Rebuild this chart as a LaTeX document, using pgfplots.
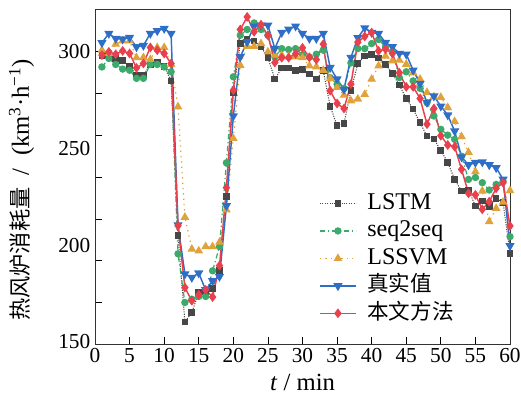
\documentclass[border=0pt]{standalone}
\usepackage{fontspec}
\setmainfont{Liberation Serif}
\newfontfamily\cjk[Scale=0.9]{Noto Sans CJK SC}
\usepackage{pgfplots}
\usepackage{pgfplotstable}
\pgfplotsset{compat=1.18}

\definecolor{cLSTM}{HTML}{474747}
\definecolor{cSeq}{HTML}{3BAA6B}
\definecolor{cSVM}{HTML}{E0A23A}
\definecolor{cTrue}{HTML}{2F6EC6}
\definecolor{cOurs}{HTML}{E8404C}

% t, LSTM, seq2seq, LSSVM, measured, proposed
\pgfplotstableread{
t  lstm  seq   svm   true  ours
1  298   292.2 300.9 304.7 298.3
2  298   296.6 299.2 309.5 300
3  296.6 293.5 304   306.9 298.8
4  295.7 291.1 305.7 306.6 300.5
5  292.6 290.5 305.7 307.4 299.2
6  288   286.3 297   302.6 291.7
7  288   286.3 297.1 303.3 294
8  293.5 293.5 296.1 309.5 302.3
9  294.8 293.5 302.3 310.9 300.9
10 292.5 292.2 302.3 312.1 299.2
11 285   289.7 293.6 309.5 294
12 205   195.5 271.6 210.4 210
13 160.2 170.3 214.4 185   178
14 165.1 172   197.9 183.2 171.2
15 175.5 173.4 197   185.5 174.3
16 176   173.4 199.2 176.8 176.8
17 177.7 186.7 199.2 181.5 173.1
18 186.9 199.2 201.5 183.7 189.4
19 225   242.6 218.2 220.3 229.7
20 278.8 287.1 255.2 266.8 280.2
21 304.3 308.6 293.1 297.4 311.6
22 306.4 311.6 302.9 305.2 318.1
23 305.7 315   302.9 313.3 310.4
24 302.6 311.6 304.3 313.8 314.1
25 297   308.6 300   313.8 308.6
26 285.9 297.4 298.3 301.7 294.5
27 291.6 301.7 298.3 310   297
28 291.6 301.2 297.5 311.7 297
29 290.4 301.7 297.5 313.3 299
30 291   298.5 297   309.5 302.1
31 288.6 297.3 292.8 306.9 297.2
32 286   298.8 292.3 306.9 296
33 290.2 300.9 290.5 309.5 304
34 271.9 286.7 286.2 291.9 279.9
35 261.8 283.3 281.6 285.9 273.3
36 263   281.1 277.6 280.6 270.7
37 279.9 294.3 274.7 297.1 283.3
38 294   301.7 275.6 307.3 305
39 297.9 301.7 278   312.4 308
40 298.6 304.3 285.9 310   310
41 296.9 306.4 292.8 309.5 300.5
42 293.6 302.6 297.8 304.8 301.4
43 288.8 300   295.4 302.6 299.2
44 282.8 286.7 295.7 299.2 289.2
45 275.9 289.7 293.6 298.8 281.9
46 270.4 285   289.2 290.5 281.9
47 263.3 281.1 285.9 283.6 275.9
48 256.4 273.7 279   273.8 262.6
49 254.9 266.8 276.8 277.1 270.7
50 249   259.9 276.5 271.9 256.6
51 242.8 256.9 271.2 267.3 251.8
52 234   254.7 264   259   250.9
53 228   246   256.1 245.6 239.2
54 228.5 234   248   241.5 226.8
55 220.3 235   238   242.7 226
56 222.8 232.3 228   243   218.5
57 219.9 228.5 212.2 241.5 222.5
58 224.2 231.4 219   240   229.4
59 222   233   222.2 234   232.3
60 195.8 204.4 228.2 199.6 209.9
}\data

\begin{document}
\begin{tikzpicture}
\begin{axis}[
    scale only axis, width=311.25pt, height=251.25pt,
    at={(0,0)}, anchor=south west,
    xmin=0, xmax=60, ymin=148.8, ymax=322.2,
    xtick={0,5,...,60}, xtick pos=bottom,
    ytick={148.8,170.3,191.9,213.4,235,256.6,278.4,300}, yticklabels={},
    extra y ticks={150,200,250,300},
    extra y tick labels={150,200,250,300},
    extra y tick style={major tick length=0pt},
    ytick pos=left, tick align=inside, major tick length=5pt,
    axis line style={black!80, line width=0.7pt},
    tick style={black, line width=0.6pt},
    /pgf/number format/assume math mode=true,
    tick label style={font=\fontsize{16}{17}\selectfont},
    label style={font=\fontsize{18.5}{20}\selectfont},
    xlabel={\textit{t} / min},
    ylabel={{\cjk 热风炉消耗量}\ \ /\ \ (km\textsuperscript{3}·h\textsuperscript{−1})},
    xlabel style={at={(axis description cs:0.5,-0.115)}, anchor=center},
    ylabel style={at={(axis description cs:-0.177,0.46)}, anchor=center},
    legend cell align=left,
    legend style={at={(axis description cs:0.53,0.466)}, anchor=north west,
        draw=none, fill=none, font=\fontsize{18}{20}\selectfont,
        nodes={inner sep=1pt, text height=13pt, text depth=4pt},
        row sep=1.6pt, column sep=7pt},
    legend image code/.code={\draw[mark repeat=2,mark phase=2,#1]
        plot coordinates {(0pt,0pt) (13.5pt,0pt) (27pt,0pt)};},
]
\addplot[cLSTM, line width=0.8pt, densely dotted, mark=square*, mark size=2.1pt,
    mark options={solid}] table[x=t, y=lstm] {\data};
\addlegendentry{LSTM}
\addplot[cSeq, line width=0.9pt, dash pattern=on 4pt off 2pt on 1pt off 2pt,
    mark=*, mark size=2.3pt, mark options={solid}] table[x=t, y=seq] {\data};
\addlegendentry{seq2seq}
\addplot[cSVM, line width=0.9pt, dash pattern=on 1pt off 3pt,
    mark=triangle*, mark size=2.9pt, mark options={solid}] table[x=t, y=svm] {\data};
\addlegendentry{LSSVM}
\addplot[cTrue, line width=1.1pt, mark=triangle*, mark size=2.9pt,
    mark options={solid, rotate=180}] table[x=t, y=true] {\data};
\addlegendentry{{\cjk 真实值}}
\addplot[cOurs, line width=1.1pt, mark=diamond*, mark size=2.8pt,
    mark options={solid}] table[x=t, y=ours] {\data};
\addlegendentry{{\cjk 本文方法}}
\end{axis}
\pgfresetboundingbox
\path[use as bounding box] (-71.25pt,-48pt) rectangle (319.5pt,258pt);
\end{tikzpicture}
\end{document}
